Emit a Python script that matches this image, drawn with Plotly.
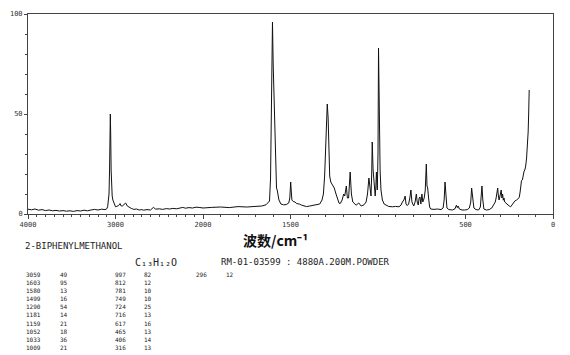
import plotly.graph_objects as go

# ---------------- data ----------------
WAVENUMBER = [
    4000, 3960, 3920, 3880, 3840, 3800, 3760, 3720, 3680, 3640, 3600, 3560, 3520, 3480, 3440, 3400,
    3360, 3320, 3280, 3240, 3200, 3160, 3120, 3100, 3090, 3080, 3074, 3068, 3063, 3059, 3055, 3050,
    3045, 3038, 3030, 3015, 3000, 2985, 2965, 2948, 2935, 2922, 2905, 2884, 2865, 2847, 2820, 2791,
    2760, 2730, 2700, 2679, 2640, 2600, 2567, 2540, 2500, 2460, 2420, 2380, 2344, 2300, 2260, 2232,
    2200, 2160, 2120, 2080, 2045, 2000, 1950, 1900, 1850, 1800, 1750, 1700, 1664, 1640, 1628, 1620,
    1614, 1610, 1606, 1603, 1599, 1594, 1590, 1586, 1583, 1580, 1576, 1572, 1566, 1555, 1540, 1525,
    1510, 1504, 1499, 1496, 1492, 1485, 1475, 1464, 1450, 1436, 1420, 1408, 1390, 1370, 1350, 1333,
    1320, 1312, 1305, 1298, 1290, 1285, 1280, 1276, 1270, 1262, 1250, 1240, 1232, 1223, 1216, 1205,
    1196, 1190, 1181, 1175, 1168, 1159, 1152, 1144, 1125, 1110, 1096, 1080, 1068, 1060, 1052, 1046,
    1040, 1036, 1033, 1028, 1022, 1016, 1012, 1009, 1004, 1000, 997, 993, 988, 983, 975, 965,
    955, 940, 917, 900, 880, 868, 861, 852, 845, 840, 833, 825, 818, 812, 806, 796,
    788, 781, 776, 770, 765, 760, 755, 749, 744, 736, 730, 724, 720, 716, 711, 705,
    699, 680, 660, 640, 628, 622, 617, 612, 606, 595, 575, 560, 552, 547, 542, 535,
    520, 505, 490, 478, 470, 465, 460, 452, 440, 425, 415, 410, 406, 401, 395, 380,
    365, 350, 340, 330, 325, 320, 316, 312, 308, 303, 299, 296, 292, 288, 284, 280,
    276, 270, 261, 250, 242, 235, 227, 218, 208, 200, 193, 188, 184, 180, 175, 170,
    165, 161, 156, 151, 146, 142, 139, 136,
]
INTENSITY = [
    2.4, 2.1, 2.5, 1.9, 2.2, 1.7, 2.0, 1.6, 1.8, 1.5, 1.7, 1.4, 1.6, 1.3, 1.7, 1.5,
    1.9, 1.6, 2.0, 2.3, 2.0, 2.4, 2.2, 2.6, 3.6, 6.5, 10, 22, 37, 50, 40, 22,
    12, 9, 7, 5, 3.6, 3.8, 4.2, 5.2, 4.0, 4.0, 4.6, 5.5, 4.0, 3.4, 2.8, 2.3,
    2.5, 2.0, 2.2, 1.9, 2.2, 2.0, 3.3, 2.4, 2.6, 2.3, 2.7, 2.5, 2.8, 2.6, 3.0, 3.3,
    2.9, 3.2, 3.0, 3.4, 3.3, 3.0, 3.3, 3.5, 3.2, 3.7, 3.5, 3.9, 4.0, 4.6, 5.5, 6.5,
    18, 40, 76, 96, 75, 55, 40, 22, 14, 13, 12, 9, 7, 5, 4.6, 4.7,
    5.5, 8, 16, 12, 7, 6.3, 6, 5.2, 5.0, 4.4, 4.0, 3.7, 4.0, 4.4, 4.8, 5,
    7, 10, 19, 35, 55, 48, 30, 19, 16, 15, 13, 10, 8, 5.5, 5.2, 7,
    10, 9, 14, 8, 8, 21, 10, 6, 4.4, 5.5, 4, 4.6, 6, 10, 18, 11,
    9, 20, 36, 22, 12, 9, 14, 21, 12, 30, 83, 45, 22, 12, 7, 5,
    4.4, 3.8, 3.6, 3.8, 3.6, 4.5, 6, 7, 9, 5, 4.2, 5, 8, 12, 6, 4,
    6, 10, 6, 4.5, 8, 8.5, 5, 10, 6, 8, 12, 25, 14, 13, 8, 3.5,
    2.5, 2.3, 2.5, 2.2, 3, 7, 16, 8, 3, 2.2, 2.0, 2.6, 4.4, 3.2, 4, 2.5,
    2.0, 2.0, 2.2, 3, 6, 13, 8, 3, 2.2, 2.0, 3.5, 8, 14, 7, 2.5, 2.0,
    2.2, 3, 4.3, 6, 8, 11, 13, 9, 7, 9, 11, 12, 8, 10, 6.9, 8,
    6, 5.5, 4.4, 4, 3.6, 4.5, 5.5, 6.5, 7, 7.5, 8.2, 11, 15, 16.7, 17, 20.7,
    21.5, 22, 24, 28, 34, 41, 50, 62,
]

PEAK_WN = [3059, 1603, 1580, 1499, 1290, 1181, 1159, 1052, 1033, 1009,
           997, 812, 781, 749, 724, 716, 617, 465, 406, 316, 296]
PEAK_INT = [49, 95, 13, 16, 54, 14, 21, 18, 36, 21,
            82, 12, 10, 10, 25, 13, 16, 13, 14, 13, 12]

XTICK_VALUES = [4000, 3000, 2000, 1500, 500, 0]
XTICK_LABELS = ["4000", "3000", "2000", "1500", "500", "0"]
YTICK_VALUES = [0, 50, 100]
YTICK_LABELS = ["0", "50", "100"]

COMPOUND = "2-BIPHENYLMETHANOL"
FORMULA = "C₁₃H₁₂O"
SAMPLE_INFO = "RM-01-03599 : 4880A.200M.POWDER"
X_TITLE = "波数/cm⁻¹"


# axis is compressed 2x above 2000 cm-1 (as in the original)
def to_axis(wn):
    return (4000 - wn) / 2 if wn >= 2000 else 1000 + (2000 - wn)


xs = [to_axis(w) for w in WAVENUMBER]
minor_x = [to_axis(w) for w in range(100, 4000, 100) if w not in XTICK_VALUES]

W, H = 570, 355
L, R, T, B = 22, 17, 10, 141
PW, PH = W - L - R, H - T - B


def px(x):
    return (x - L) / PW


def py(y):
    return (H - B - y) / PH


fig = go.Figure()
fig.add_trace(go.Scatter(x=xs, y=INTENSITY, mode="lines",
                         line=dict(color="#111111", width=1), hoverinfo="skip",
                         showlegend=False))

mono = "DejaVu Sans Mono"
tickfont = dict(family=mono, size=7, color="#333333")

fig.update_layout(
    width=W, height=H,
    margin=dict(l=L, r=R, t=T, b=B, pad=0),
    paper_bgcolor="white", plot_bgcolor="white",
    xaxis=dict(range=[0, 3000], showgrid=False, zeroline=False,
               showline=True, linecolor="#444444", linewidth=1, mirror=True,
               ticks="outside", ticklen=4, tickcolor="#444444",
               tickvals=[to_axis(v) for v in XTICK_VALUES], ticktext=XTICK_LABELS,
               tickfont=tickfont,
               minor=dict(tickvals=minor_x, ticks="outside", ticklen=2,
                          tickcolor="#444444", showgrid=False)),
    yaxis=dict(range=[0, 100], showgrid=False, zeroline=False,
               showline=True, linecolor="#444444", linewidth=1, mirror=True,
               ticks="outside", ticklen=3, tickcolor="#444444",
               tickvals=YTICK_VALUES, ticktext=YTICK_LABELS, tickfont=tickfont,
               minor=dict(dtick=10, ticks="outside", ticklen=2,
                          tickcolor="#444444", showgrid=False)),
)

ann = []
ann.append(dict(text=X_TITLE, x=px(272), y=py(241), xref="paper", yref="paper",
                showarrow=False, xanchor="center", yanchor="middle",
                font=dict(family="Noto Sans CJK SC", size=14, color="#111111",
                          weight="bold")))
ann.append(dict(text=COMPOUND, x=px(17), y=py(247), xref="paper", yref="paper",
                showarrow=False, xanchor="left", yanchor="middle",
                font=dict(family=mono, size=9, color="#222222")))
ann.append(dict(text=FORMULA, x=px(128), y=py(263), xref="paper", yref="paper",
                showarrow=False, xanchor="left", yanchor="middle",
                font=dict(family=mono, size=10, color="#222222")))
ann.append(dict(text=SAMPLE_INFO, x=px(215), y=py(263), xref="paper", yref="paper",
                showarrow=False, xanchor="left", yanchor="middle",
                font=dict(family=mono, size=9, color="#222222")))

col_wn_x = [18, 108, 190]
col_int_x = [52, 137, 220]
tfont = dict(family=mono, size=6, color="#222222")
for i, (w, v) in enumerate(zip(PEAK_WN, PEAK_INT)):
    c, r = divmod(i, 10)
    yy = 276 + r * 8.2
    ann.append(dict(text=str(w), x=px(col_wn_x[c]), y=py(yy), xref="paper", yref="paper",
                    showarrow=False, xanchor="left", yanchor="middle", font=tfont))
    ann.append(dict(text=str(v), x=px(col_int_x[c]), y=py(yy), xref="paper", yref="paper",
                    showarrow=False, xanchor="left", yanchor="middle", font=tfont))

fig.update_layout(annotations=ann)
fig.write_html("out.html")
